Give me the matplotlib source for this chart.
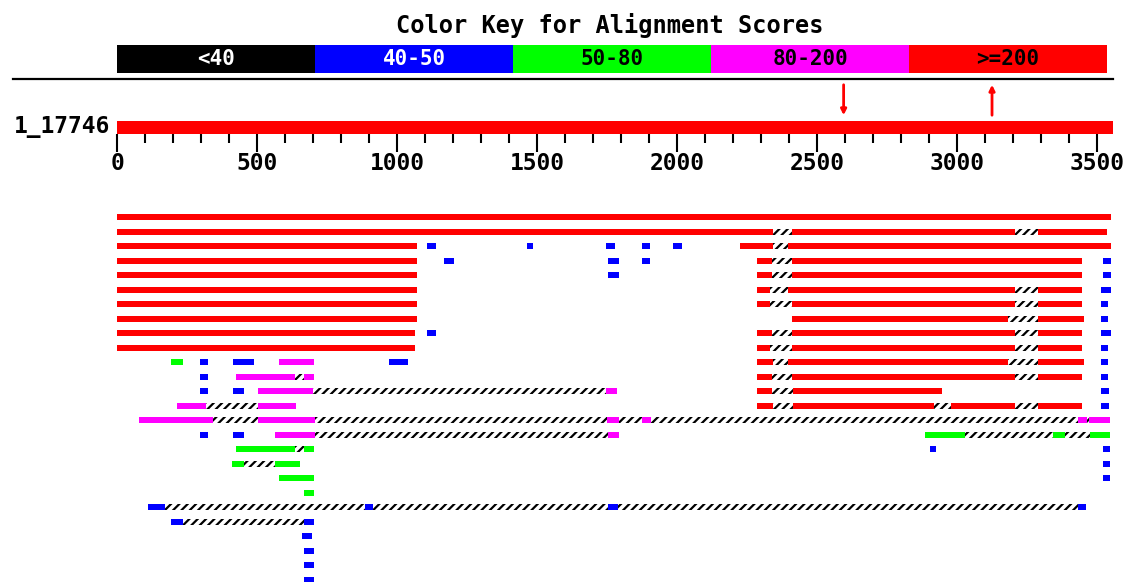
import matplotlib
matplotlib.use('Agg')
import matplotlib.pyplot as plt

# colour key
key_labels = ['<40', '40-50', '50-80', '80-200', '>=200']
key_colors = ['#000000', '#0000ff', '#00ff00', '#ff00ff', '#ff0000']
key_text = ['white', 'white', 'black', 'black', 'black']

# query
query_name = '1_17746'
query_len = 3556
tick_labels = [0, 500, 1000, 1500, 2000, 2500, 3000, 3500]
arrows_down = [2594]
arrows_up = [3124]

# hit segments: (row, start, end) in query coordinates
red_segs = [
    (0, 0, 3550),
    (1, 0, 2342), (1, 2409, 3206), (1, 3288, 3533),
    (2, 0, 1069), (2, 2224, 2342), (2, 2395, 3550),
    (3, 0, 1069), (3, 2284, 2337), (3, 2409, 3444),
    (4, 0, 1069), (4, 2284, 2337), (4, 2409, 3444),
    (5, 0, 1069), (5, 2284, 2331), (5, 2395, 3206), (5, 3288, 3444),
    (6, 0, 1069), (6, 2284, 2331), (6, 2409, 3206), (6, 3288, 3444),
    (7, 0, 1069), (7, 2409, 3181), (7, 3288, 3453),
    (8, 0, 1063), (8, 2284, 2337), (8, 2409, 3206), (8, 3288, 3444),
    (9, 0, 1063), (9, 2284, 2331), (9, 2409, 3206), (9, 3288, 3444),
    (10, 2284, 2342), (10, 2395, 3181), (10, 3288, 3453),
    (11, 2284, 2337), (11, 2409, 3206), (11, 3288, 3444),
    (12, 2284, 2337), (12, 2413, 2945),
    (13, 2284, 2342), (13, 2413, 2916), (13, 2978, 3205), (13, 3289, 3444),
]
blue_segs = [
    (2, 1105, 1137), (2, 1463, 1485), (2, 1745, 1778), (2, 1873, 1904), (2, 1985, 2016),
    (3, 1167, 1204), (3, 1752, 1792), (3, 1873, 1904), (3, 3520, 3549),
    (4, 1752, 1792), (4, 3520, 3549),
    (5, 3512, 3549), (6, 3512, 3538), (7, 3513, 3538),
    (8, 1105, 1137), (8, 3513, 3549), (9, 3513, 3538),
    (10, 295, 325), (10, 414, 488), (10, 971, 1039), (10, 3513, 3538),
    (11, 295, 325), (11, 3513, 3538),
    (12, 295, 325), (12, 414, 452), (12, 3513, 3543),
    (13, 3513, 3543),
    (15, 295, 325), (15, 414, 452),
    (16, 2901, 2923), (16, 3520, 3547),
    (17, 3520, 3547), (18, 3520, 3547),
    (20, 109, 170), (20, 885, 914), (20, 1754, 1788), (20, 3430, 3460),
    (21, 191, 236), (21, 667, 704),
    (22, 661, 697), (23, 668, 704), (24, 668, 704), (25, 668, 704),
]
green_segs = [
    (10, 191, 236),
    (15, 2886, 3029), (15, 3342, 3386), (15, 3474, 3547),
    (16, 423, 635), (16, 667, 704),
    (17, 409, 452), (17, 563, 653),
    (18, 579, 704),
    (19, 668, 704),
]
magenta_segs = [
    (10, 579, 704),
    (11, 423, 635), (11, 667, 704),
    (12, 504, 698), (12, 1744, 1785),
    (13, 214, 317), (13, 504, 638),
    (14, 79, 341), (14, 504, 706), (14, 1748, 1792), (14, 1873, 1905),
    (14, 3430, 3463), (14, 3470, 3547),
    (15, 563, 706), (15, 1751, 1792),
]
gap_segs = [
    (1, 2342, 2409), (1, 3206, 3288),
    (2, 2342, 2395),
    (3, 2337, 2409), (4, 2337, 2409),
    (5, 2331, 2395), (5, 3206, 3288),
    (6, 2331, 2409), (6, 3206, 3288),
    (7, 3181, 3288),
    (8, 2337, 2409), (8, 3206, 3288),
    (9, 2331, 2409), (9, 3206, 3288),
    (10, 2342, 2395), (10, 3181, 3288),
    (11, 635, 667), (11, 2337, 2409), (11, 3206, 3288),
    (12, 698, 1744), (12, 2337, 2413),
    (13, 317, 504), (13, 2342, 2413), (13, 2916, 2978), (13, 3205, 3289),
    (14, 341, 504), (14, 706, 1748), (14, 1792, 1873), (14, 1905, 3430), (14, 3463, 3470),
    (15, 706, 1751), (15, 3029, 3342), (15, 3386, 3474),
    (16, 635, 667),
    (17, 452, 563),
    (20, 170, 885), (20, 914, 1754), (20, 1788, 3430),
    (21, 236, 667),
]

# layout (pixel units on the y axis, query units on the x axis)
W, H = 1125, 582
X0_PX, PX_PER_UNIT = 117.3, 0.28
ROW0, ROW_STEP, ROW_H = 217.3, 14.5, 6
FONT = 'DejaVu Sans Mono'

plt.rcParams['hatch.linewidth'] = 1.6

fig = plt.figure(figsize=(W / 100, H / 100), dpi=100)
ax = fig.add_axes([0, 0, 1, 1])
ax.set_xlim(-X0_PX / PX_PER_UNIT, (W - X0_PX) / PX_PER_UNIT)
ax.set_ylim(H, 0)
ax.axis('off')

# colour key
ax_key = fig.add_axes([117 / W, 1 - 73 / H, 990 / W, 28.3 / H])
ax_key.set_xlim(0, len(key_labels))
ax_key.set_ylim(0, 1)
ax_key.axis('off')
ax_key.barh(0.5, 1, left=range(len(key_labels)), height=1, color=key_colors)
for i, lab in enumerate(key_labels):
    ax_key.text(i + 0.5, 0.5, lab, ha='center', va='center', color=key_text[i],
                fontsize=15, fontweight='bold', family=FONT)

fig.text(0.542, 1 - 25 / H, 'Color Key for Alignment Scores', ha='center', va='center',
         fontsize=17, fontweight='bold', family=FONT)
ax.axhline(79, xmin=13 / W, xmax=1112.7 / W, color='black', lw=1.6)

# query bar + scale
ax.barh(127.5, query_len, left=0, height=13, color='#ff0000')
ax.text(-25, 126, query_name, ha='right', va='center', fontsize=16.5,
        fontweight='bold', family=FONT)
minor = [t for t in range(0, 3600, 100) if t % 500 != 0]
ax.vlines(minor, 134, 143, color='black', lw=1.5)
ax.vlines(tick_labels, 134, 152, color='black', lw=1.5)
for t in tick_labels:
    ax.text(t, 164, str(t), ha='center', va='center', fontsize=16.5,
            fontweight='bold', family=FONT)

for a in arrows_down:
    ax.annotate('', xy=(a, 118), xytext=(a, 82),
                arrowprops=dict(arrowstyle='-|>', color='red', lw=2, mutation_scale=8))
for a in arrows_up:
    ax.annotate('', xy=(a, 82), xytext=(a, 118),
                arrowprops=dict(arrowstyle='-|>', color='red', lw=2, mutation_scale=8))

# hits
for segs, col in [(red_segs, '#ff0000'), (blue_segs, '#0000ff'),
                  (green_segs, '#00ff00'), (magenta_segs, '#ff00ff')]:
    for row, s, e in segs:
        ax.barh(ROW0 + ROW_STEP * row, e - s, left=s, height=ROW_H, color=col, lw=0)
for row, s, e in gap_segs:
    ax.barh(ROW0 + ROW_STEP * row, e - s, left=s, height=ROW_H, facecolor='white',
            edgecolor='black', hatch='////', lw=0)

fig.savefig('out.png', dpi=100)
